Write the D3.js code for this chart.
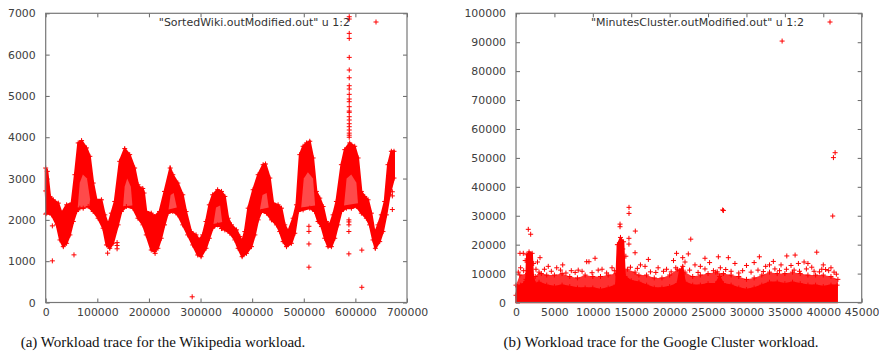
<!DOCTYPE html>
<html>
<head>
<meta charset="utf-8">
<script src="https://cdn.jsdelivr.net/npm/d3@7"></script>
<style>
  body { margin: 0; background: #fff; }
  svg { display: block; }
  .tick text { font-family: "DejaVu Sans", sans-serif; font-size: 10.9px; fill: #404040; }
  .tick line { stroke: #666; }
  .key { font-family: "DejaVu Sans", sans-serif; font-size: 11px; fill: #333; }
  .caption { font-family: "Liberation Serif", serif; font-size: 15px; fill: #111; }
</style>
</head>
<body>
<div id="chart"></div>
<script>
// ---- Wikipedia trace: band envelopes (x = request index, y = load)
const wikiUpper = [[0,3255],[3200,3174],[8400,2567],[14800,2486],[24400,2405],[30900,2162],[40500,2364],[50200,2405],[56600,3093],[63000,3862],[69500,3919],[79100,3741],[85500,3538],[92000,2891],[98400,2486],[108000,2486],[114500,2121],[120900,1879],[127300,2162],[133800,2445],[143400,3417],[153100,3725],[162700,3579],[172300,3255],[178800,2850],[185200,2750],[188000,2760],[190500,2650],[194900,2202],[204500,2162],[210900,2081],[220600,2202],[230200,2688],[241200,3255],[246300,3093],[256000,2891],[265600,2607],[272000,2202],[281700,1717],[291300,1636],[297700,1514],[304200,1636],[310600,1960],[317000,2364],[323500,2607],[333100,2729],[340600,2688],[347100,2567],[353500,2040],[360000,1879],[369700,1757],[376100,1595],[380600,1474],[385800,1717],[392300,2283],[401900,2729],[411600,3093],[421300,3336],[425800,3352],[434200,3012],[440600,2405],[450300,2364],[456800,2283],[463200,1879],[469700,1717],[479400,2040],[485800,2364],[492300,3579],[498700,3781],[505200,3862],[511600,3903],[518100,3498],[524500,2688],[531000,2526],[537400,2324],[543900,1960],[550300,1879],[556800,2121],[563200,2445],[572900,3336],[579400,3700],[589000,3862],[598700,3781],[605200,3498],[611600,2688],[618100,2567],[624500,2486],[631000,2162],[637400,1676],[643900,1879],[650300,2121],[656800,2445],[663200,3336],[669700,3660],[674800,3660]];
const wikiLower = [[0,2700],[1900,2162],[11600,2121],[21200,1879],[27700,1514],[34100,1352],[40500,1433],[46900,1636],[53400,1960],[59800,2202],[66200,2283],[72700,2283],[82300,2324],[92000,2202],[101600,2040],[111300,1798],[117700,1393],[124100,1312],[130500,1433],[140200,1879],[146600,2202],[156300,2324],[169100,2283],[178800,2040],[188400,1879],[194900,1636],[204500,1271],[210900,1231],[217400,1312],[223800,1555],[230200,1879],[236700,2162],[246300,2202],[256000,2121],[265600,1879],[275200,1636],[284900,1393],[294500,1150],[301000,1109],[310600,1312],[317000,1555],[323500,1798],[333100,1879],[342800,1798],[347100,1757],[356800,1676],[366500,1514],[372900,1312],[380600,1109],[389000,1190],[398700,1352],[405200,1636],[411600,2000],[418100,2202],[427700,2162],[437400,2000],[447100,1879],[453500,1717],[460000,1474],[466500,1352],[476100,1433],[482600,1676],[489000,2202],[498700,2243],[511600,2283],[521300,2202],[527700,1960],[534200,1838],[540600,1555],[547100,1352],[553500,1352],[560000,1555],[566500,1879],[572900,2202],[582600,2283],[592300,2283],[601900,2324],[611600,2162],[621300,2040],[627700,1879],[634200,1514],[638700,1312],[647100,1474],[653500,1717],[660000,2121],[666500,2607],[674800,3012]];
// sparser (speckled) pockets inside the peaks
const wikiPockets = [
  [[62000,2300],[66000,2900],[72000,3100],[80000,3000],[86000,2500],[84000,2300]],
  [[150000,2330],[153000,2800],[158000,3000],[165000,2800],[168000,2350]],
  [[238000,2250],[242000,2600],[248000,2650],[254000,2300]],
  [[325000,1900],[330000,2300],[338000,2350],[342000,1950]],
  [[415000,2250],[420000,2600],[428000,2650],[432000,2300]],
  [[495000,2300],[500000,3000],[508000,3150],[518000,3000],[522000,2350]],
  [[578000,2350],[583000,3000],[592000,3100],[602000,2900],[605000,2400]]
];
const wikiOutliers = [[0,2140],[12900,1855],[12900,1008],[54800,1153],[120000,1194],[138300,1300],[138300,1380],[138300,1450],[212000,1190],[283800,138],[340600,1790],[510000,1845],[510000,1720],[510000,1417],[510000,855],[587400,1177],[587400,1718],[587500,1880],[587500,1950],[587500,2000],[612500,1268],[612500,368],[671600,2250],[671600,2580],[671600,2680],
  [588100,6917],[588100,6861],[588100,6514],[588100,6393],[588100,5933],[588100,5627],[588100,5440],[588100,5247],[588100,5167],[588100,5038],[588100,4925],[588100,4860],[588100,4739],[588100,4634],[588100,4603],[588100,4497],[588100,4417],[588100,4327],[588100,4255],[588100,4175],[588100,4100],[588100,4050],[588100,4000]];

// ---- Google cluster trace
const clusterSolid = [[0,2500],[200,5500],[600,6000],[1000,6500],[1300,8000],[1400,16500],[1700,17500],[2100,17000],[2250,9000],[2500,6500],[3000,7000],[4000,6000],[5000,5500],[6000,6000],[7000,5500],[8000,5000],[9000,5000],[10000,5000],[11000,4500],[12000,5000],[13000,6000],[13200,20000],[13600,22500],[14000,21000],[14200,9000],[15000,7500],[16000,7000],[17000,6000],[18000,5000],[19000,5000],[20000,5500],[21000,6500],[21300,11000],[21700,12500],[22000,7000],[23000,6000],[24000,6000],[25000,6500],[26000,6500],[26500,9000],[27000,6500],[28000,6000],[29000,5000],[30000,4500],[31000,5000],[32000,6000],[33000,7000],[34000,7000],[35000,6500],[36000,7000],[37000,6500],[38000,6000],[39000,6000],[40000,5500],[41000,6000],[41800,6000]];
const clusterSparse = [[0,6000],[500,9500],[1500,10000],[2500,9000],[3000,10500],[4000,9500],[5000,9500],[6000,10000],[7000,9000],[8000,8500],[9000,9500],[10000,9000],[11000,9000],[12000,9500],[13000,10000],[14500,11500],[15500,10500],[16000,9500],[17000,9500],[18000,8500],[19000,8500],[20000,9500],[21000,11500],[22000,10500],[23000,9000],[24000,9500],[25000,10000],[26000,10500],[27000,10000],[28000,9500],[29000,9000],[30000,8000],[31000,8500],[32000,9500],[33000,10500],[34000,10000],[35000,10000],[36000,10500],[37000,10000],[38000,9500],[39000,9500],[40000,9500],[41000,9000],[41900,8000]];
const clusterOutliers = [[34640,90400],[41320,50100],[41540,51800],[41230,29900],[26900,32000],[27000,31800],[14710,32900],[14710,30800],[13540,27100],[13540,26200],[1600,25300],[1910,23600],[15530,24700],[14700,22200],[14700,20200],[22750,21900],[39150,17400],[520,17000],[20900,17000],[22430,16800],[24600,15300],[26340,15800],[27640,15500],[31680,15800],[35250,16100],[36330,16400],[17230,14900],[10290,15300],[9200,14100],[9500,14100],[3125,15500],[950,17000],[6080,13000],[15500,17200],[2800,14000],[36760,13500],[23300,13000],
  [4200,12500],[5300,12000],[7200,11000],[8100,11200],[11200,11500],[12500,12000],[16800,12500],[18500,12000],[19600,11500],[20500,14500],[24000,12500],[25200,13800],[28500,13500],[30000,12800],[31000,13800],[32500,12500],[33500,14200],[34500,13000],[37500,14000],[38500,12200],[40000,13000],[40700,11000],[29500,11000],[3700,11500],[600,12000],[1200,14500],[22000,14000],[21700,15500],[13900,18500],[14300,16000],[2300,13500],[16200,13000],[26600,12000],[33000,13000],[35800,12800],[38000,13500],[39800,11500],[41000,12000],
  [300,10500],[1000,11000],[2600,11500],[3300,10000],[4600,10800],[5800,11200],[6500,10200],[7700,10400],[8600,10800],[9900,10300],[10700,11200],[11800,10200],[12800,11000],[14900,12200],[15800,11800],[17500,10600],[18200,10400],[19200,10800],[20200,10600],[20800,12000],[22600,11200],[23700,10400],[24600,11600],[25700,11000],[26200,10600],[27300,11400],[28000,10800],[29000,10200],[30600,10500],[31500,11200],[32200,10700],[33700,11600],[34300,11000],[35200,11500],[36200,11200],[36900,10800],[37800,11600],[38800,10800],[39500,10600],[40300,11400],[41400,10500],[41700,9800]];

const wikiXTicks = d3.range(0, 700001, 100000);
const wikiYTicks = d3.range(0, 7001, 1000);
const clusterXTicks = d3.range(0, 45001, 5000);
const clusterYTicks = d3.range(0, 100001, 10000);

const width = 879, height = 358;
const svg = d3.select("#chart").append("svg")
  .attr("width", width)
  .attr("height", height);

const red = "#ff0000";

function plusPath(pts, x, y) {
  return pts.map(d => {
    const px = x(d[0]), py = y(d[1]);
    return "M" + (px - 2.5) + "," + py + "h5M" + px + "," + (py - 2.5) + "v5";
  }).join("");
}

function drawPanel(opts) {
  const x = d3.scaleLinear().domain(opts.xDomain).range([opts.left, opts.right]);
  const y = d3.scaleLinear().domain(opts.yDomain).range([opts.bottom, opts.top]);
  const g = svg.append("g");

  // axes (gnuplot style: inward ticks, mirrored)
  g.append("g").attr("transform", "translate(0," + opts.bottom + ")")
    .call(d3.axisBottom(x).tickValues(opts.xTicks).tickFormat(d3.format("d")).tickSizeInner(-4).tickSizeOuter(0).tickPadding(6));
  g.append("g").attr("transform", "translate(" + opts.left + ",0)")
    .call(d3.axisLeft(y).tickValues(opts.yTicks).tickFormat(d3.format("d")).tickSizeInner(-4).tickSizeOuter(0).tickPadding(10));
  g.append("g").attr("transform", "translate(0," + opts.top + ")")
    .call(d3.axisTop(x).tickValues(opts.xTicks).tickFormat("").tickSizeInner(-4).tickSizeOuter(0));
  g.append("g").attr("transform", "translate(" + opts.right + ",0)")
    .call(d3.axisRight(y).tickValues(opts.yTicks).tickFormat("").tickSizeInner(-4).tickSizeOuter(0));
  g.selectAll(".domain").remove();

  const line = d3.line().x(d => x(d[0])).y(d => y(d[1]));
  opts.draw(g, x, y, line);

  g.append("rect")
    .attr("x", opts.left).attr("y", opts.top)
    .attr("width", opts.right - opts.left).attr("height", opts.bottom - opts.top)
    .attr("fill", "none").attr("stroke", "#777").attr("stroke-width", 1.2);

  // key
  g.append("text").attr("class", "key")
    .attr("x", opts.keyX).attr("y", 25.5).attr("text-anchor", "end")
    .text(opts.keyText);
  g.append("path")
    .attr("d", "M" + (opts.keyX + 23.5) + ",22h5M" + (opts.keyX + 26) + ",19.5v5")
    .attr("stroke", red).attr("stroke-width", 1);

  g.append("text").attr("class", "caption")
    .attr("x", opts.capX).attr("y", 347).attr("text-anchor", "middle")
    .text(opts.caption);
}

drawPanel({
  left: 45.7, right: 407, top: 13.3, bottom: 302.5,
  xDomain: [0, 700000], yDomain: [0, 7000],
  xTicks: wikiXTicks, yTicks: wikiYTicks,
  keyX: 350, keyText: "\"SortedWiki.outModified.out\" u 1:2",
  capX: 163, caption: "(a) Workload trace for the Wikipedia workload.",
  draw: (g, x, y, line) => {
    const band = wikiUpper.concat(wikiLower.slice().reverse());
    g.append("path").attr("d", line(band) + "Z").attr("fill", red)
      .attr("stroke", red).attr("stroke-width", 2);
    g.selectAll(".pocket").data(wikiPockets).join("path")
      .attr("class", "pocket")
      .attr("d", d => line(d) + "Z")
      .attr("fill", "#ff4a4a");
    g.append("path").attr("d", plusPath(wikiUpper.concat(wikiLower), x, y))
      .attr("stroke", red).attr("stroke-width", 1).attr("fill", "none");
    g.append("path").attr("d", plusPath(wikiOutliers, x, y))
      .attr("stroke", red).attr("stroke-width", 1).attr("fill", "none");
  }
});

drawPanel({
  left: 516, right: 861.7, top: 13.3, bottom: 302.5,
  xDomain: [0, 45000], yDomain: [0, 100000],
  xTicks: clusterXTicks, yTicks: clusterYTicks,
  keyX: 804, keyText: "\"MinutesCluster.outModified.out\" u 1:2",
  capX: 661, caption: "(b) Workload trace for the Google Cluster workload.",
  draw: (g, x, y, line) => {
    const base = [[clusterSparse[clusterSparse.length - 1][0], 0], [0, 0]];
    g.append("path").attr("d", line(clusterSparse.concat(base)) + "Z")
      .attr("fill", "#ff3030");
    const baseSolid = [[clusterSolid[clusterSolid.length - 1][0], 0], [0, 0]];
    g.append("path").attr("d", line(clusterSolid.concat(baseSolid)) + "Z")
      .attr("fill", red).attr("stroke", red).attr("stroke-width", 1.5);
    g.append("path").attr("d", plusPath(clusterSparse.concat(clusterSolid), x, y))
      .attr("stroke", red).attr("stroke-width", 1).attr("fill", "none");
    g.append("path").attr("d", plusPath(clusterOutliers, x, y))
      .attr("stroke", red).attr("stroke-width", 1).attr("fill", "none");
  }
});
</script>
</body>
</html>
